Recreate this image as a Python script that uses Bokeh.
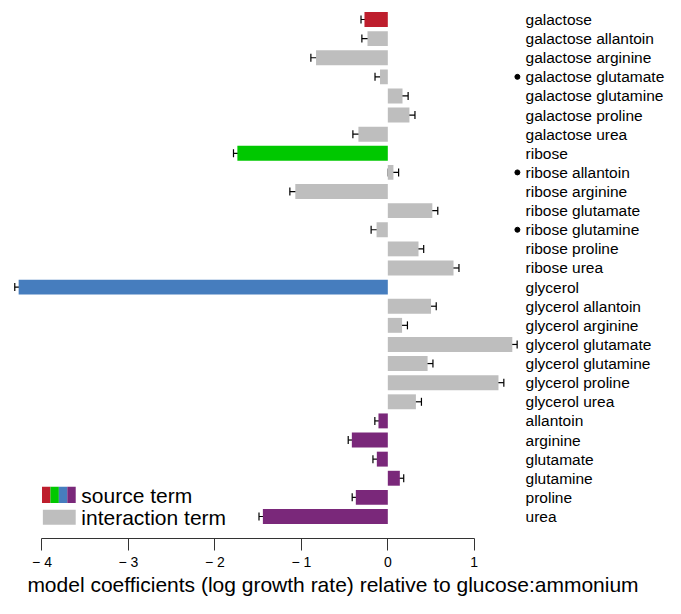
from bokeh.plotting import figure
from bokeh.models import Range1d, FixedTicker, ColumnDataSource, Whisker, TeeHead
from bokeh.core.properties import value
from bokeh.embed import file_html
from bokeh.resources import INLINE

# ---------------- data ----------------
labels = ["galactose", "galactose allantoin", "galactose arginine", "galactose glutamate",
          "galactose glutamine", "galactose proline", "galactose urea",
          "ribose", "ribose allantoin", "ribose arginine", "ribose glutamate",
          "ribose glutamine", "ribose proline", "ribose urea",
          "glycerol", "glycerol allantoin", "glycerol arginine", "glycerol glutamate",
          "glycerol glutamine", "glycerol proline", "glycerol urea",
          "allantoin", "arginine", "glutamate", "glutamine", "proline", "urea"]
coef = [-0.27, -0.235, -0.83, -0.09, 0.17, 0.25, -0.34,
        -1.74, 0.065, -1.07, 0.515, -0.13, 0.355, 0.76,
        -4.27, 0.50, 0.165, 1.44, 0.46, 1.28, 0.325,
        -0.108, -0.416, -0.127, 0.139, -0.37, -1.445]
err = [0.04, 0.065, 0.06, 0.058, 0.065, 0.064, 0.064,
       0.045, 0.06, 0.063, 0.063, 0.063, 0.06, 0.063,
       0.045, 0.06, 0.062, 0.056, 0.062, 0.062, 0.064,
       0.042, 0.042, 0.045, 0.045, 0.042, 0.045]
term = ["galactose", "interaction", "interaction", "interaction", "interaction", "interaction", "interaction",
        "ribose", "interaction", "interaction", "interaction", "interaction", "interaction", "interaction",
        "glycerol", "interaction", "interaction", "interaction", "interaction", "interaction", "interaction",
        "nitrogen", "nitrogen", "nitrogen", "nitrogen", "nitrogen", "nitrogen"]
marked = [False, False, False, True, False, False, False,
          False, True, False, False, True, False, False,
          False, False, False, False, False, False, False,
          False, False, False, False, False, False]
tick_values = [-4, -3, -2, -1, 0, 1]
tick_labels = ["\u2212 4", "\u2212 3", "\u2212 2", "\u2212 1", "0", "1"]
legend_labels = ["source term", "interaction term"]

palette = {"galactose": "#BE1E2D", "ribose": "#00C800", "glycerol": "#467DBE",
           "nitrogen": "#7A287A", "interaction": "#BEBEBE"}
source_colors = [palette["galactose"], palette["ribose"], palette["glycerol"], palette["nitrogen"]]

n = len(labels)
ypos = [n - 1 - i for i in range(n)]

src = ColumnDataSource(dict(
    y=ypos, coef=coef, zero=[0] * n,
    lo=[c - e for c, e in zip(coef, err)], hi=[c + e for c, e in zip(coef, err)],
    color=[palette[t] for t in term], label=labels,
))

FONT = "Liberation Sans"

p = figure(width=665, height=598,
           x_range=Range1d(-4.480, 3.212), y_range=Range1d(-1.152, 26.994),
           output_backend="svg", toolbar_location=None, y_axis_location=None,
           min_border_left=0, min_border_right=0, min_border_top=0, min_border_bottom=60)
p.outline_line_color = None
p.xgrid.visible = False
p.ygrid.visible = False
p.background_fill_color = "white"

p.hbar(y="y", left="zero", right="coef", height=0.78, color="color", line_color=None, source=src)

head_kw = dict(size=8, line_color="black", line_width=1.2)
p.add_layout(Whisker(source=src, base="y", lower="lo", upper="hi", dimension="width",
                     line_color="black", line_width=1.2,
                     lower_head=TeeHead(**head_kw), upper_head=TeeHead(**head_kw)))

# row labels
p.text(x=1.593, y="y", text="label", source=src, text_font=value(FONT), text_font_size="15.5px",
       text_align="left", text_baseline="middle", text_color="black")
mk_y = [y for y, m in zip(ypos, marked) if m]
p.scatter(x=[1.499] * len(mk_y), y=mk_y, size=5, color="black")

# legend (striped swatch for source terms, grey swatch for interaction terms)
lx0, lw = -4.0, 0.39
sw = lw / len(source_colors)
p.quad(left=[lx0 + i * sw for i in range(len(source_colors))],
       right=[lx0 + (i + 1) * sw for i in range(len(source_colors))],
       bottom=[1.13 - 0.43] * 4, top=[1.13 + 0.43] * 4, color=source_colors, line_color=None)
p.quad(left=[lx0 + 0.01], right=[lx0 + lw], bottom=[-0.04 - 0.39], top=[-0.04 + 0.39],
       color=palette["interaction"], line_color=None)
p.text(x=[-3.545, -3.545], y=[1.10, -0.04], text=legend_labels, text_font=value(FONT),
       text_font_size="21px", text_align="left", text_baseline="middle", text_color="black")

# x axis
ax = p.xaxis[0]
ax.ticker = FixedTicker(ticks=tick_values)
ax.bounds = (-4, 1)
ax.major_label_overrides = {t: l for t, l in zip(tick_values, tick_labels)}
ax.axis_line_color = "#333333"
ax.major_tick_line_color = "#333333"
ax.major_tick_in = 0
ax.major_tick_out = 12
ax.minor_tick_line_color = None
ax.major_label_standoff = 3
ax.major_label_text_font = FONT
ax.major_label_text_font_size = "14px"
ax.major_label_text_color = "black"
ax.axis_label = "model coefficients (log growth rate) relative to glucose:ammonium"
ax.axis_label_text_font = FONT
ax.axis_label_text_font_size = "21px"
ax.axis_label_text_font_style = "normal"
ax.axis_label_text_color = "black"
ax.axis_label_standoff = 0

open("out.html", "w").write(file_html(p, INLINE))
